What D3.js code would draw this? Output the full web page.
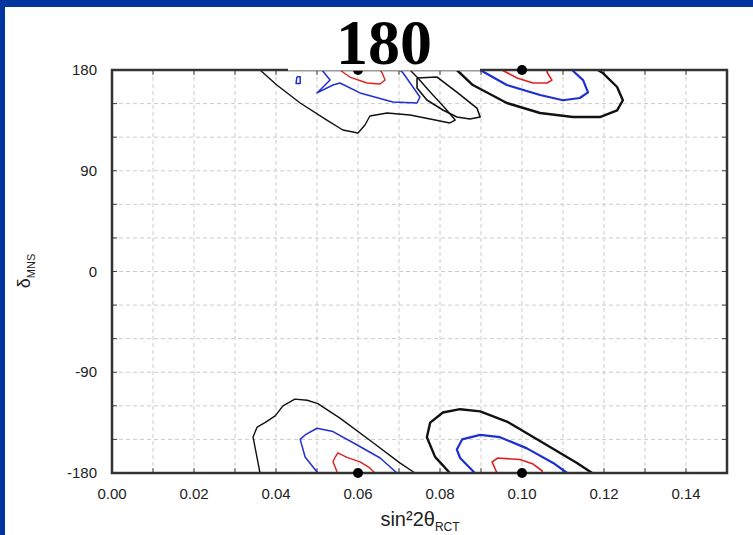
<!DOCTYPE html>
<html>
<head>
<meta charset="utf-8">
<script src="https://cdn.jsdelivr.net/npm/d3@7/dist/d3.min.js"></script>
<style>
  html, body { margin: 0; padding: 0; background: #fff; }
  svg { display: block; }
</style>
</head>
<body>
<div id="chart"></div>
<script>
// axis ticks
const xTicks = [0.00, 0.02, 0.04, 0.06, 0.08, 0.10, 0.12, 0.14];
const yTicks = [-180, -90, 0, 90, 180];
const xGrid = d3.range(0, 15).map(i => i / 100);
const yGrid = d3.range(-180, 181, 30);

// best fit points
const bestFit = [[0.06, 180], [0.10, 180], [0.06, -180], [0.10, -180]];

// contours, [sin^2 2theta, delta]
const blackTopA = [[0.0361, 180], [0.0402, 166.6], [0.0459, 150.5], [0.0524, 135.3], [0.0563, 126.4],
  [0.060, 123.7], [0.0617, 130.9], [0.0629, 138.9], [0.0671, 141.6], [0.0727, 139.8], [0.0776, 136.2],
  [0.0824, 132.7], [0.0837, 135.3], [0.0812, 146], [0.0776, 160.3], [0.0746, 172.9], [0.0727, 180]];
const blackTopIsland = [[0.0744, 172.9], [0.0793, 173.7], [0.0841, 160.3], [0.089, 146], [0.0898, 138],
  [0.0873, 136.2], [0.0841, 138], [0.0807, 144.3], [0.0768, 153.2], [0.0744, 163.9], [0.0744, 172.9]];
const blueTopA = [[0.0512, 180], [0.0532, 171], [0.050, 159.5], [0.0539, 166.6], [0.0556, 168.4],
  [0.0605, 159.5], [0.0685, 151.4], [0.0744, 150.5], [0.0751, 155.9], [0.0734, 164.8], [0.071, 177.3], [0.0702, 180]];
const blueTopIsland = [[0.0451, 174], [0.0459, 174], [0.0459, 168], [0.0449, 168], [0.0451, 174]];
const redTopA = [[0.0556, 180], [0.058, 173.7], [0.0622, 168.4], [0.0654, 167.5], [0.0666, 171],
  [0.0659, 177.3], [0.0654, 180]];

const blackTopB = [[0.0841, 180], [0.088, 166.6], [0.0963, 150.5], [0.1044, 141.6], [0.1124, 138],
  [0.119, 138], [0.1232, 144], [0.1246, 153], [0.1232, 164.8], [0.1198, 177], [0.1185, 180]];
const blueTopB = [[0.0898, 180], [0.0963, 166.6], [0.1044, 157.7], [0.110, 153], [0.1141, 155],
  [0.1161, 160], [0.1149, 171], [0.1122, 180]];
const redTopB = [[0.0951, 180], [0.0988, 172.9], [0.1027, 168.4], [0.1061, 168.4], [0.1073, 171],
  [0.1061, 178], [0.1061, 180]];

const blackBotA = [[0.0361, -180], [0.0344, -147.8], [0.0354, -139], [0.0373, -135], [0.0398, -129],
  [0.0417, -120], [0.0446, -114], [0.0476, -115], [0.0502, -118], [0.0556, -131], [0.0637, -153],
  [0.0702, -171], [0.0739, -180]];
const blueBotA = [[0.0502, -180], [0.0471, -165.7], [0.0459, -150], [0.0471, -146], [0.050, -140],
  [0.0539, -143], [0.0598, -155], [0.0654, -166.6], [0.0695, -180]];
const redBotA = [[0.0549, -179], [0.0539, -170], [0.0544, -166], [0.0551, -162], [0.0573, -166],
  [0.0605, -170], [0.0629, -175.5], [0.0641, -180]];

const blackBotB = [[0.0824, -180], [0.0788, -165.6], [0.0768, -148], [0.0776, -135], [0.0807, -126],
  [0.0849, -123], [0.0898, -125], [0.0963, -134], [0.1051, -153], [0.1134, -171], [0.1171, -180]];
const blueBotB = [[0.0885, -180], [0.0849, -166.6], [0.0841, -159], [0.0854, -150], [0.0898, -146],
  [0.0946, -148], [0.1012, -158], [0.1076, -171], [0.111, -180]];
const redBotB = [[0.0939, -180], [0.0927, -170], [0.0941, -166.6], [0.0995, -168], [0.1027, -172],
  [0.1049, -178], [0.1049, -180]];

const width = 753, height = 535;
const plot = { left: 112, right: 727, top: 70, bottom: 473 };

const svg = d3.select("#chart").append("svg")
  .attr("width", width)
  .attr("height", height);

svg.append("rect").attr("width", width).attr("height", height).attr("fill", "#fff");
// slide frame
svg.append("rect").attr("x", 0).attr("y", 0).attr("width", width).attr("height", 7).attr("fill", "#00349e");
svg.append("rect").attr("x", 0).attr("y", 0).attr("width", 5).attr("height", height).attr("fill", "#00349e");

const x = d3.scaleLinear().domain([0, 0.15]).range([plot.left, plot.right]);
const y = d3.scaleLinear().domain([-180, 180]).range([plot.bottom, plot.top]);

// grid
const grid = svg.append("g");
grid.selectAll("line.vx")
  .data(xGrid.filter(d => d > 0))
  .join("line")
  .attr("x1", d => x(d)).attr("x2", d => x(d))
  .attr("y1", plot.top).attr("y2", plot.bottom)
  .attr("stroke", "#cccccc").attr("stroke-width", 1).attr("stroke-dasharray", "4,3");
grid.selectAll("line.hy")
  .data(yGrid.filter(d => d > -180 && d < 180))
  .join("line")
  .attr("x1", plot.left).attr("x2", plot.right)
  .attr("y1", d => y(d)).attr("y2", d => y(d))
  .attr("stroke", "#cccccc").attr("stroke-width", 1).attr("stroke-dasharray", "4,3");

// inner ticks
const tk = svg.append("g").attr("stroke", "#444").attr("stroke-width", 1);
xGrid.filter(d => d > 0).forEach(d => {
  tk.append("line").attr("x1", x(d)).attr("x2", x(d)).attr("y1", plot.bottom).attr("y2", plot.bottom - 5);
  tk.append("line").attr("x1", x(d)).attr("x2", x(d)).attr("y1", plot.top).attr("y2", plot.top + 5);
});
yGrid.filter(d => d > -180 && d < 180).forEach(d => {
  tk.append("line").attr("x1", plot.left).attr("x2", plot.left + 5).attr("y1", y(d)).attr("y2", y(d));
  tk.append("line").attr("x1", plot.right).attr("x2", plot.right - 5).attr("y1", y(d)).attr("y2", y(d));
});

// contours
const line = d3.line().x(d => x(d[0])).y(d => y(d[1]));
const contours = [
  { pts: blackTopA, color: "#111", w: 1.4 },
  { pts: blackTopIsland, color: "#111", w: 1.6 },
  { pts: blueTopA, color: "#1f2fd0", w: 1.5 },
  { pts: blueTopIsland, color: "#1f2fd0", w: 1.5 },
  { pts: redTopA, color: "#e02020", w: 1.4 },
  { pts: blackTopB, color: "#111", w: 2.4 },
  { pts: blueTopB, color: "#1f2fd0", w: 2.2 },
  { pts: redTopB, color: "#e02020", w: 1.6 },
  { pts: blackBotA, color: "#111", w: 1.4 },
  { pts: blueBotA, color: "#1f2fd0", w: 1.5 },
  { pts: redBotA, color: "#e02020", w: 1.4 },
  { pts: blackBotB, color: "#111", w: 2.4 },
  { pts: blueBotB, color: "#1f2fd0", w: 2.2 },
  { pts: redBotB, color: "#e02020", w: 1.6 }
];
svg.append("g").selectAll("path")
  .data(contours)
  .join("path")
  .attr("d", d => line(d.pts))
  .attr("fill", "none")
  .attr("stroke", d => d.color)
  .attr("stroke-width", d => d.w)
  .attr("stroke-linejoin", "round");

// frame
svg.append("rect")
  .attr("x", plot.left).attr("y", plot.top)
  .attr("width", plot.right - plot.left).attr("height", plot.bottom - plot.top)
  .attr("fill", "none").attr("stroke", "#333").attr("stroke-width", 2.5);

// best fit dots
svg.append("g").selectAll("circle")
  .data(bestFit)
  .join("circle")
  .attr("cx", d => x(d[0])).attr("cy", d => y(d[1]))
  .attr("r", 5).attr("fill", "#000");

// tick labels
svg.append("g").selectAll("text")
  .data(xTicks)
  .join("text")
  .attr("x", d => x(d)).attr("y", 499)
  .attr("text-anchor", "middle")
  .attr("font-family", "Liberation Sans, Arial, sans-serif")
  .attr("font-size", 15).attr("fill", "#222")
  .text(d => d3.format(".2f")(d));
svg.append("g").selectAll("text")
  .data(yTicks)
  .join("text")
  .attr("x", 97).attr("y", d => y(d) + 5)
  .attr("text-anchor", "end")
  .attr("font-family", "Liberation Sans, Arial, sans-serif")
  .attr("font-size", 15).attr("fill", "#222")
  .text(d => d);

// axis titles
const xt = svg.append("text")
  .attr("x", 420).attr("y", 526)
  .attr("text-anchor", "middle")
  .attr("font-family", "Liberation Sans, Arial, sans-serif")
  .attr("font-size", 20).attr("fill", "#222");
xt.append("tspan").text("sin²2θ");
xt.append("tspan").attr("font-size", 12).attr("dy", 5).text("RCT");

const yt = svg.append("text")
  .attr("transform", "translate(30,271) rotate(-90)")
  .attr("text-anchor", "middle")
  .attr("font-family", "Liberation Sans, Arial, sans-serif")
  .attr("font-size", 18).attr("fill", "#222");
yt.append("tspan").text("δ");
yt.append("tspan").attr("font-size", 11).attr("dy", 5).text("MNS");

// title box
svg.append("rect").attr("x", 288).attr("y", 7).attr("width", 192).attr("height", 63.5).attr("fill", "#fff");
svg.append("text")
  .attr("x", 384).attr("y", 64)
  .attr("text-anchor", "middle")
  .attr("font-family", "Liberation Serif, Times New Roman, serif")
  .attr("font-weight", "bold")
  .attr("font-size", 64).attr("fill", "#000")
  .text("180");
</script>
</body>
</html>
